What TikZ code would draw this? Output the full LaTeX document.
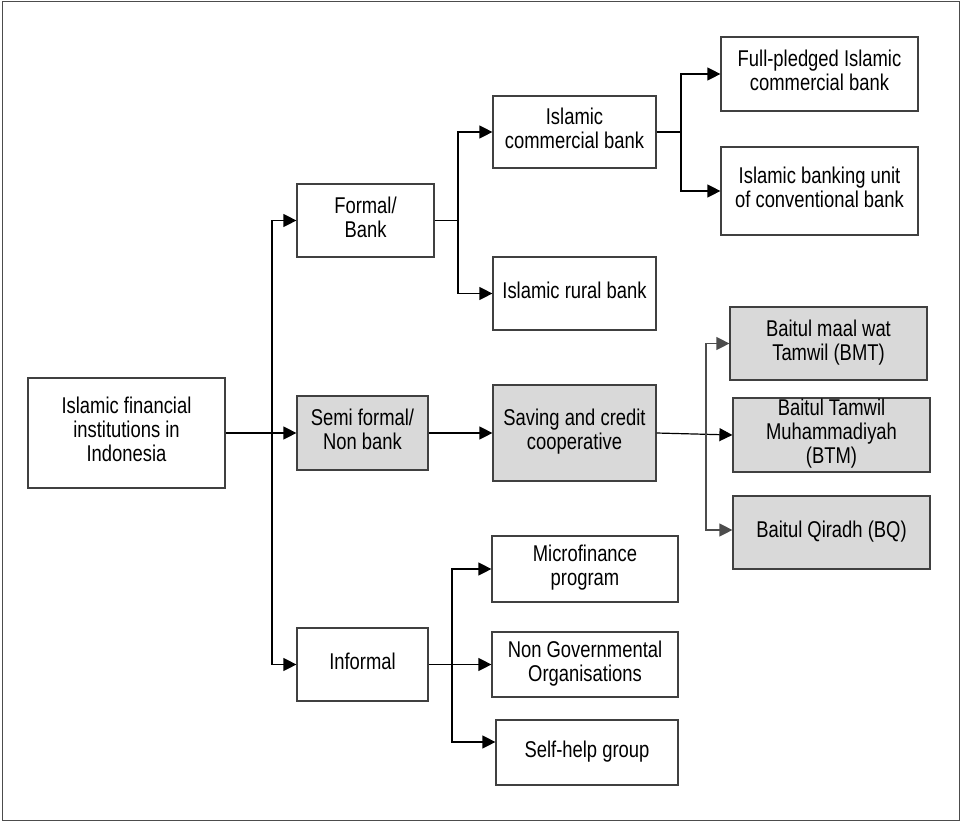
\documentclass[tikz,border=0pt]{standalone}
\usepackage{fontspec}
\usepackage{graphicx}
\setmainfont{Liberation Sans}
\usetikzlibrary{arrows.meta,calc}
\definecolor{boxgray}{HTML}{D9D9D9}
\definecolor{edgegray}{HTML}{404040}
\newcommand\vtxt[1]{\scalebox{1}[1.24]{\begin{tabular}{@{}c@{}}#1\end{tabular}}}
\begin{document}
\begin{tikzpicture}[x=1pt,y=-1pt,
  box/.style={draw=edgegray,line width=1.2pt,rectangle,inner sep=0pt,
    font=\fontsize{18.4}{19.2}\selectfont,align=center},
  shaded/.style={box,fill=boxgray},
  conn/.style={line width=1.2pt,draw=black},
  arr/.style={conn,-{Triangle[length=13pt,width=13pt]}}]
\useasboundingbox (0,0) rectangle (962,822);
\draw[line width=1.5pt,draw=black!70] (2.5,1.5) rectangle (959.5,820.5);

\node[box,minimum width=197pt,minimum height=110pt] (main) at (126.5,433) {\vtxt{Islamic financial\\institutions in\\Indonesia}};
\node[box,minimum width=137pt,minimum height=73pt] (formal) at (365.5,220.5) {\vtxt{Formal/\\Bank}};
\node[shaded,minimum width=131pt,minimum height=74pt] (semi) at (362.5,433) {\vtxt{Semi formal/\\Non bank}};
\node[box,minimum width=131pt,minimum height=73pt] (informal) at (362.5,664.5) {\vtxt{Informal}};

\node[box,minimum width=163pt,minimum height=72pt] (icb) at (574.5,132) {\vtxt{Islamic\\commercial bank}};
\node[box,minimum width=163pt,minimum height=73pt] (rural) at (574.5,293.5) {\vtxt{Islamic rural bank}};
\node[shaded,minimum width=163pt,minimum height=96pt] (saving) at (574.5,433) {\vtxt{Saving and credit\\cooperative}};
\node[box,minimum width=186pt,minimum height=66pt] (micro) at (585,569) {\vtxt{Microfinance\\program}};
\node[box,minimum width=186pt,minimum height=65pt] (ngo) at (585,664.5) {\vtxt{Non Governmental\\Organisations}};
\node[box,minimum width=182pt,minimum height=65pt] (self) at (587,752.5) {\vtxt{Self-help group}};

\node[box,minimum width=197pt,minimum height=74pt] (fullp) at (819.5,74) {\vtxt{Full-pledged Islamic\\commercial bank}};
\node[box,minimum width=197pt,minimum height=88pt] (unit) at (819.5,191) {\vtxt{Islamic banking unit\\of conventional bank}};
\node[shaded,minimum width=197pt,minimum height=73pt] (bmt) at (828.5,343.5) {\vtxt{Baitul maal wat\\Tamwil (BMT)}};
\node[shaded,minimum width=197pt,minimum height=74pt] (btm) at (831.5,435) {\vtxt{Baitul Tamwil\\Muhammadiyah\\(BTM)}};
\node[shaded,minimum width=197pt,minimum height=73pt] (bq) at (831.5,532.5) {\vtxt{Baitul Qiradh (BQ)}};

% level 1
\coordinate (j1) at (272,433);
\draw[arr] (main.east) -- (semi.west);
\draw[arr] (j1) |- (formal.west);
\draw[arr] (j1) |- (informal.west);

% formal
\coordinate (j2) at (458,220.5);
\draw[conn] (formal.east) -- (j2);
\draw[arr] (j2) |- (icb.west);
\draw[arr] (j2) |- (rural.west);

% islamic commercial bank
\coordinate (j3) at (681,132);
\draw[conn] (icb.east) -- (j3);
\draw[arr] (j3) |- (fullp.west);
\draw[arr] (j3) |- (unit.west);

% semi formal
\draw[arr] (semi.east) -- (saving.west);
\coordinate (j4) at (706,434);
\draw[arr] (saving.east) -- (btm.west);
\draw[arr,draw=black!70] (j4) |- (bmt.west);
\draw[arr,draw=black!70] (j4) |- ([yshift=2.5pt]bq.west);

% informal
\coordinate (j5) at (452,664.5);
\draw[arr] (informal.east) -- (ngo.west);
\draw[arr] (j5) |- (micro.west);
\draw[arr] (j5) |- ([yshift=10.5pt]self.west);
\end{tikzpicture}
\end{document}
